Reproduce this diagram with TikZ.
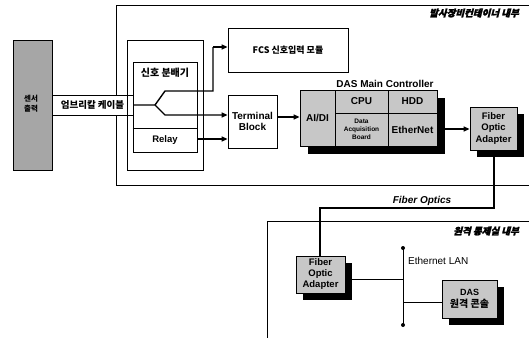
\documentclass[tikz,border=0pt]{standalone}
\usepackage{fontspec}
\setmainfont{Liberation Sans}
\newfontfamily\cjk{Noto Sans CJK KR}
\newfontfamily\cjkit{Noto Sans CJK KR}[FakeSlant=0.25,FakeBold=2]
\usetikzlibrary{arrows.meta}
\begin{document}
\begin{tikzpicture}[x=1pt,y=-1pt,
  box/.style={draw,line width=0.8pt,inner sep=0pt,align=center,font=\fontsize{10}{11.5}\selectfont\bfseries},
  gbox/.style={box,fill=black!22},
  conn/.style={line width=1.4pt},
  arr/.style={conn,-{Triangle[length=6pt,width=5pt]}},
  thin/.style={line width=0.8pt},
  lbl/.style={inner sep=0pt,font=\fontsize{10}{11.5}\selectfont\bfseries}
]
\useasboundingbox (0,0) rectangle (529,338);
% outer container
\draw[thin] (529,5) -- (116,5) -- (116,185) -- (529,185);
\node[lbl,anchor=east] (t1) at (519,13) {\cjkit\fontsize{9.5}{10}\selectfont 발사장비컨테이너 내부};
% sensor
\node[box,fill=black!35,minimum width=39pt,minimum height=130pt,font=\fontsize{7.5}{12}\selectfont\bfseries] (sensor) at (32.5,105) {};
\node[lbl] (senstxt) at (31,103.5) {\cjk\fontsize{7.5}{12.5}\selectfont\bfseries\begin{tabular}{@{}c@{}}센서\\[-2.5pt]출력\end{tabular}};
% cable
\node[box,fill=white,minimum width=81pt,minimum height=20pt] (cable) at (92.5,105) {\cjk\fontsize{9.5}{10}\selectfont\bfseries 엄브리칼 케이블};
% group box
\node[box,minimum width=76pt,minimum height=130pt] (group) at (165,105) {};
% distributor
\node[box,minimum width=64pt,minimum height=90pt] (dist) at (165,107) {};
\node[lbl] (distlbl) at (165,73) {\cjk\fontsize{10}{11}\selectfont\bfseries 신호 분배기};
\draw[conn] (dist.west |- 0,128.5) coordinate (rl) -- (dist.east |- 0,128.5) coordinate (rr);
\node[lbl,font=\fontsize{9.5}{11}\selectfont\bfseries] (relay) at (165,140.5) {Relay};
% FCS
\node[box,minimum width=120pt,minimum height=44pt] (fcs) at (288,50) {\cjk\fontsize{9}{10}\selectfont\bfseries FCS 신호입력 모듈};
% Terminal block
\node[box,minimum width=49pt,minimum height=53pt] (tb) at (252.5,121.5) {Terminal\\Block};
% split
\coordinate (s0) at (155,105);
\coordinate (s1) at (165,91);
\coordinate (s2) at (165,115);
\draw[conn] (cable.east) -- (s0) -- (s1) -- (213,91) -- (213,47);
\draw[arr] (213,47) -- (fcs.west |- 0,47);
\draw[arr] (s0) -- (s2) -- (tb.west |- 0,115);
\draw[arr] (dist.east |- 0,139) -- (tb.west |- 0,139);
% DAS main controller
\fill (308,98) rectangle (445,154);
\node[gbox,minimum width=35pt,minimum height=56pt] (aidi) at (317.5,118) {AI/DI};
\node[gbox,minimum width=53pt,minimum height=23pt] (cpu) at (361.5,101.5) {CPU};
\node[gbox,minimum width=49pt,minimum height=23pt] (hdd) at (412.5,101.5) {HDD};
\node[gbox,minimum width=53pt,minimum height=33pt,font=\fontsize{6.5}{7.8}\selectfont\bfseries] (dab) at (361.5,129.5) {Data\\Acquisition\\Board};
\node[gbox,minimum width=49pt,minimum height=33pt] (eth) at (412.5,129.5) {EtherNet};
\node[lbl] (dastitle) at (385,84) {DAS Main Controller};
\draw[arr] (tb.east |- 0,117) -- (aidi.west |- 0,117);
% Fiber optic adapter 1
\fill (477,114) rectangle (524,157);
\node[gbox,minimum width=47pt,minimum height=43pt,font=\fontsize{9.5}{11.5}\selectfont\bfseries] (foa1) at (493.5,128.5) {Fiber\\Optic\\Adapter};
\draw[arr] (eth.east |- 0,129) -- (foa1.west |- 0,129);
% lower box
\draw[thin] (529,221) -- (267,221) -- (267,338);
\node[lbl,anchor=east] (t2) at (519,231) {\cjkit\fontsize{9.5}{10}\selectfont 원격 통제실 내부};
% FOA 2
\fill (303,263) rectangle (352,300);
\node[gbox,minimum width=49pt,minimum height=37pt,font=\fontsize{9.5}{11}\selectfont\bfseries] (foa2) at (320.5,274.5) {Fiber\\Optic\\Adapter};
\draw[conn] (foa1.south -| 494,0) -- (494,208) -- (320,208) -- (foa2.north -| 320,0);
\node[lbl,font=\fontsize{10}{11}\selectfont\bfseries\itshape] (fo) at (422,201) {Fiber Optics};
% Ethernet LAN
\coordinate (bt) at (403,248);
\coordinate (bb) at (403,325);
\draw[thin] (bt) -- (bb);
\fill (bt) circle (2pt) (bb) circle (2pt);
\node[lbl,anchor=west,font=\fontsize{10}{11}\selectfont] (lan) at (408,261) {Ethernet LAN};
% console
\fill (449,287) rectangle (504,325);
\node[gbox,minimum width=55pt,minimum height=38pt] (cons) at (469.5,299) {\fontsize{9}{11}\selectfont DAS\\\cjk\fontsize{10}{11}\selectfont\bfseries 원격 콘솔};
\draw[thin] (foa2.east |- 0,279) -- (403,279);
\draw[thin] (403,302) -- (cons.west |- 0,302);
\end{tikzpicture}
\end{document}
